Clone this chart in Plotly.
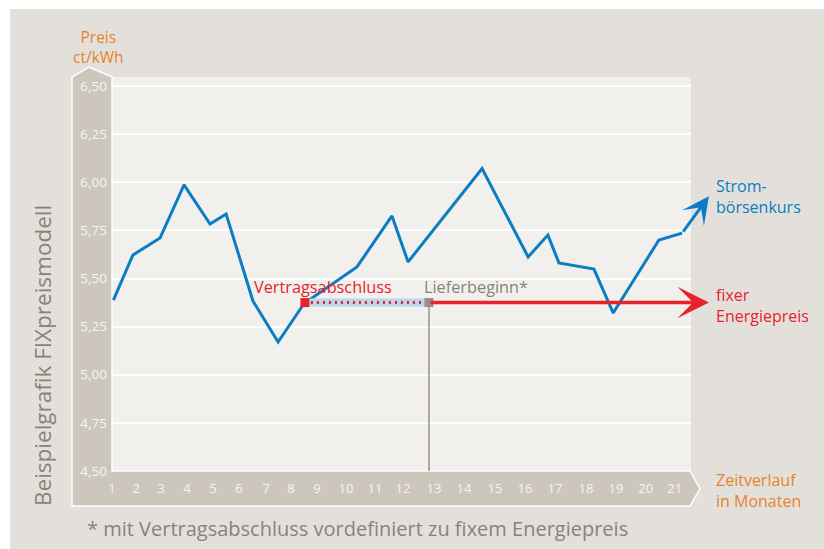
import plotly.graph_objects as go

# ---------------- data ----------------
# Strombörsenkurs (ct/kWh) over time (months); last point = arrow tip
strom_month = [1.05, 1.74, 2.70, 3.55, 4.47, 5.04, 5.99, 6.88, 7.80, 9.67, 10.91,
               11.48, 14.10, 15.73, 16.43, 16.82, 18.06, 18.74, 20.36, 21.18, 22.13]
strom_price = [5.388, 5.622, 5.710, 5.986, 5.783, 5.835, 5.383, 5.170, 5.370, 5.560,
               5.825, 5.586, 6.071, 5.612, 5.726, 5.581, 5.549, 5.321, 5.700, 5.736, 5.927]

fix_price = 5.375          # fixer Energiepreis
vertrag_month = 7.83       # Vertragsabschluss
liefer_month = 12.22       # Lieferbeginn
fix_end_month = 22.13      # arrow tip of fixed price

month_labels = [str(i) for i in range(1, 22)]
month_label_pos = [1.000, 1.850, 2.735, 3.655, 4.575, 5.496, 6.451, 7.336, 8.257, 9.283,
                   10.310, 11.301, 12.398, 13.460, 14.558, 15.619, 16.681, 17.779,
                   18.841, 19.894, 20.920]
price_ticks = [4.50, 4.75, 5.00, 5.25, 5.50, 5.75, 6.00, 6.25, 6.50]

# ---------------- style ----------------
BLUE = "#0b7dc2"
RED = "#e8222b"
ORANGE = "#e8832b"
GRAYTXT = "#8a8279"
BAND = "#cdc6bd"
OUTER = "#e3e0dc"
PLOTBG = "#f1f0ed"
VLINE = "#9a9088"
FONT = "Open Sans"

W, H = 824, 549
L, R, T, B = 112, 691, 77, 471   # plot area in pixels


def PX(p):
    return (p - L) / (R - L)


def PY(p):
    return (B - p) / (B - T)


fig = go.Figure()

fig.add_trace(go.Scatter(x=strom_month[:-1], y=strom_price[:-1], mode="lines",
                         line=dict(color=BLUE, width=3), hoverinfo="skip"))
fig.add_trace(go.Scatter(x=[vertrag_month, liefer_month], y=[fix_price, fix_price], mode="lines",
                         line=dict(color="#b9d6f0", width=8), hoverinfo="skip"))
fig.add_trace(go.Scatter(x=[vertrag_month, liefer_month], y=[fix_price, fix_price], mode="lines",
                         line=dict(color=RED, width=3, dash="2px,4px"), hoverinfo="skip"))
fig.add_trace(go.Scatter(x=[liefer_month, liefer_month], y=[price_ticks[0], fix_price], mode="lines",
                         line=dict(color=VLINE, width=1.5), hoverinfo="skip"))
fig.add_trace(go.Scatter(x=[vertrag_month], y=[fix_price], mode="markers",
                         marker=dict(symbol="square", size=9, color=RED), hoverinfo="skip"))
fig.add_trace(go.Scatter(x=[liefer_month], y=[fix_price], mode="markers",
                         marker=dict(symbol="square", size=9, color=VLINE), hoverinfo="skip"))

shapes = [
    dict(type="rect", xref="paper", yref="paper", x0=PX(10), x1=PX(W + 5), y0=PY(H + 5), y1=PY(9),
         fillcolor=OUTER, line=dict(width=0), layer="below"),
    dict(type="rect", xref="paper", yref="paper", x0=0, x1=1, y0=0, y1=1,
         fillcolor=PLOTBG, line=dict(width=0), layer="below"),
]
pts = [(72, 506), (72, 77), (89, 67), (112, 77), (112, 471), (690, 471), (700, 489), (690, 506)]
path = "M " + " L ".join(f"{PX(x):.5f},{PY(y):.5f}" for x, y in pts) + " Z"
shapes.append(dict(type="path", xref="paper", yref="paper", path=path,
                   fillcolor=BAND, line=dict(color="white", width=1.5), layer="below"))

ann = []
# arrows
ann.append(dict(x=strom_month[-1], y=strom_price[-1], ax=strom_month[-2], ay=strom_price[-2],
                xref="x", yref="y", axref="x", ayref="y", text="", showarrow=True,
                arrowhead=3, arrowsize=1.5, arrowwidth=3, arrowcolor=BLUE))
ann.append(dict(x=fix_end_month, y=fix_price, ax=liefer_month, ay=fix_price,
                xref="x", yref="y", axref="x", ayref="y", text="", showarrow=True,
                arrowhead=3, arrowsize=1.5, arrowwidth=3.5, arrowcolor=RED))


def txt(text, x, y, color, size, xanchor="left", angle=0, align="left"):
    ann.append(dict(text=text, x=PX(x), y=PY(y), xref="paper", yref="paper",
                    showarrow=False, xanchor=xanchor, yanchor="middle", textangle=angle,
                    align=align, borderpad=0,
                    font=dict(family=FONT, size=size, color=color)))


txt("Preis<br>ct/kWh", 98, 47, ORANGE, 15.5, xanchor="center", align="center")
txt("Beispielgrafik FIXpreismodell", 42, 356, GRAYTXT, 22.5, xanchor="center", angle=-90)
txt("Vertragsabschluss", 253, 287, RED, 16.3)
txt("Lieferbeginn*", 423, 287, GRAYTXT, 16.3)
txt("Strom-<br>börsenkurs", 715, 196, BLUE, 16)
txt("fixer<br>Energiepreis", 715, 305, RED, 16)
txt("Zeitverlauf<br>in Monaten", 715, 490, ORANGE, 16)
txt("* mit Vertragsabschluss vordefiniert zu fixem Energiepreis", 86, 528, GRAYTXT, 20)

fig.update_layout(
    width=W, height=H,
    margin=dict(l=L, r=W - R, t=T, b=H - B, pad=0),
    paper_bgcolor="white", plot_bgcolor="rgba(0,0,0,0)",
    showlegend=False, hovermode=False,
    separators=",.",
    shapes=shapes, annotations=ann,
    font=dict(family=FONT),
)
fig.update_xaxes(range=[1, 1 + (R - L) / 28.25], tickvals=month_label_pos, ticktext=month_labels,
                 showgrid=False, zeroline=False, showline=False, ticks="",
                 tickfont=dict(family=FONT, size=13, color="#f6f4f1"), ticklabelstandoff=8,
                 fixedrange=True)
fig.update_yaxes(range=[4.5, 4.5 + (B - T) / 192.5], tickvals=price_ticks, tickformat=".2f",
                 showgrid=True, gridcolor="white", gridwidth=1.5, zeroline=False, showline=False,
                 ticks="", tickfont=dict(family=FONT, size=13.5, color="#f6f4f1"),
                 ticklabelstandoff=4, fixedrange=True)

fig.write_html("out.html", config={"displayModeBar": False},
               post_script="document.body.style.margin='0';document.body.style.overflow='hidden';")
